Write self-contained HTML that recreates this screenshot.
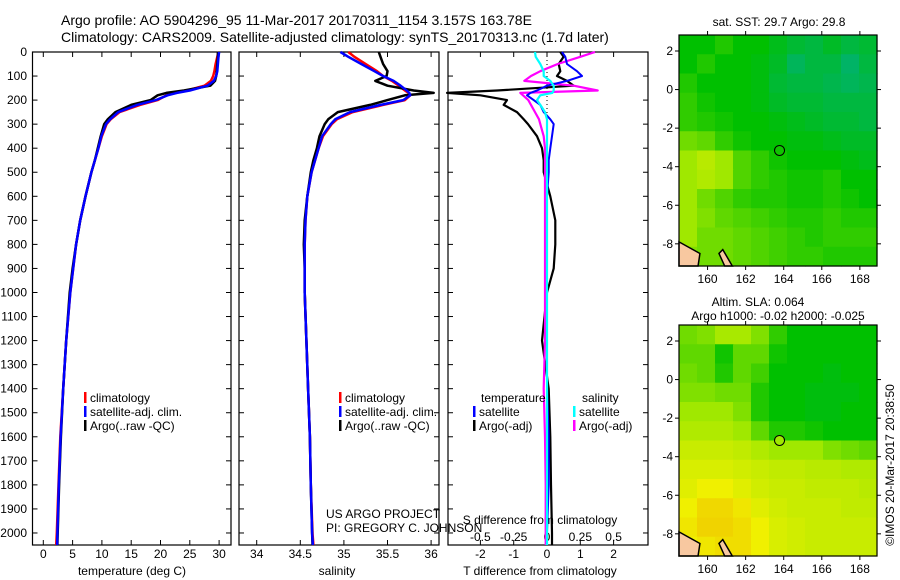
<!DOCTYPE html>
<html><head><meta charset="utf-8"><style>
body{margin:0;background:#fff;}
svg{display:block;font-family:"Liberation Sans",sans-serif;}
</style></head><body>
<svg id="fig" width="900" height="580" viewBox="0 0 900 580">
<text x="61" y="25" font-size="14">Argo profile: AO 5904296_95 11-Mar-2017 20170311_1154 3.157S 163.78E</text>
<text x="61" y="42" font-size="14">Climatology: CARS2009. Satellite-adjusted climatology: synTS_20170313.nc (1.7d later)</text>
<g id="g1"></g>
<g id="g2"></g>
<g id="g3"></g>
<g id="m1"></g>
<g id="m2"></g>
<text x="326" y="518" font-size="12">US ARGO PROJECT</text>
<text x="326" y="532" font-size="12">PI: GREGORY C. JOHNSON</text>
<text x="779" y="26" font-size="12" text-anchor="middle">sat. SST: 29.7 Argo: 29.8</text>
<text x="758" y="306" font-size="12" text-anchor="middle">Altim. SLA: 0.064</text>
<text x="778" y="320" font-size="12" text-anchor="middle">Argo h1000: -0.02 h2000: -0.025</text>
<text transform="translate(894,465) rotate(-90)" font-size="12" text-anchor="middle">©IMOS 20-Mar-2017 20:38:50</text>
</svg>
<script>
const depths=[0,20,50,80,100,120,140,160,170,180,200,220,250,280,300,350,400,450,500,600,700,800,900,1000,1200,1400,1600,1800,2000,2050];
const tempArgo=[29.8,29.8,29.7,29.6,29.5,29.3,28.5,24,21,19.5,18.3,15,12.3,11,10.4,9.8,9.3,8.8,8.2,7.2,6.3,5.6,5.0,4.5,3.9,3.4,3.0,2.7,2.45,2.4];
const tempClim=[29.9,29.7,29.4,29.2,29.0,28.6,27.5,24.5,22.5,21,19.5,16.5,13,11.5,10.8,10,9.4,8.8,8.2,7.2,6.3,5.6,5.1,4.6,3.9,3.4,2.9,2.6,2.3,2.2];
const tempSat=[30.0,29.9,29.8,29.7,29.5,29.1,28.0,25,22.8,21.2,19.2,16,12.8,11.4,10.7,9.9,9.4,8.8,8.2,7.2,6.3,5.6,5.1,4.6,3.9,3.4,2.95,2.65,2.4,2.35];
const salArgo=[35.40,35.42,35.45,35.50,35.49,35.36,35.5,35.8,36.03,35.7,35.5,35.3,34.93,34.82,34.78,34.72,34.69,34.65,34.62,34.58,34.55,34.54,34.55,34.55,34.57,34.59,34.61,34.62,34.635,34.64];
const salClim=[35.05,35.12,35.25,35.38,35.45,35.55,35.63,35.7,35.74,35.76,35.7,35.45,35.1,34.92,34.86,34.76,34.71,34.67,34.63,34.58,34.56,34.55,34.55,34.55,34.57,34.59,34.61,34.62,34.64,34.65];
const salSat=[34.96,35.05,35.2,35.35,35.45,35.57,35.65,35.72,35.75,35.76,35.68,35.42,35.07,34.9,34.85,34.75,34.71,34.67,34.63,34.58,34.56,34.55,34.55,34.55,34.57,34.59,34.61,34.62,34.635,34.645];
const tdiffArgo=[0.4,0.5,0.35,0.4,0.3,0.6,0.8,-1.5,-3.0,-2.0,-1.2,-1.3,-0.9,-0.7,-0.57,-0.3,-0.15,-0.1,-0.1,0.1,0.25,0.25,0.2,0.0,-0.15,0.05,0.1,0.12,0.15,0.15];
const tdiffSat=[0.45,0.55,0.6,0.9,1.05,0.6,0.0,-0.3,-0.5,-0.6,-0.4,-0.2,-0.1,0.1,0.2,0.15,0.1,0.05,0.05,0.0,0.0,0.0,0.0,0.0,0.0,0.0,0.05,0.05,0.0,0.0];
const sdiffArgo=[0.36,0.25,0.08,-0.05,-0.12,-0.17,0.2,0.38,-0.2,-0.18,-0.14,-0.12,-0.09,-0.06,-0.05,-0.025,-0.015,-0.015,-0.015,-0.015,-0.015,-0.015,-0.015,-0.015,-0.015,-0.025,-0.015,-0.01,-0.01,-0.01];
const sdiffSat=[-0.09,-0.085,-0.05,-0.025,-0.025,0.025,0.05,0.05,0.04,-0.05,-0.075,-0.05,-0.015,0.0,0.0,0.0,0.0,0.0,0.0,0.0,0.0,0.0,0.0,0.0,0.0,0.0,0.0,0.0,0.0,0.0];
const depthTicks=[0,100,200,300,400,500,600,700,800,900,1000,1100,1200,1300,1400,1500,1600,1700,1800,1900,2000];
const tempTicks=[0,5,10,15,20,25,30];
const salTicks=[34,34.5,35,35.5,36];
const tdTicks=[-2,-1,0,1,2];
const sdTicks=[-0.5,-0.25,0,0.25,0.5];
const lonTicks=[160,162,164,166,168];
const latTicks=[2,0,-2,-4,-6,-8];
const sstGrid=[
[.5,.5,.52,.5,.5,.48,.46,.45,.47,.45,.46],
[.5,.52,.5,.5,.49,.47,.43,.45,.45,.42,.45],
[.52,.5,.5,.5,.49,.46,.45,.45,.44,.43,.44],
[.53,.51,.5,.5,.49,.47,.46,.46,.45,.45,.45],
[.53,.52,.51,.5,.5,.49,.48,.47,.46,.46,.45],
[.57,.56,.53,.51,.5,.5,.49,.49,.48,.47,.47],
[.6,.63,.6,.55,.53,.51,.5,.5,.5,.49,.48],
[.6,.62,.6,.55,.53,.52,.51,.51,.52,.5,.5],
[.6,.57,.55,.53,.52,.52,.51,.51,.52,.51,.5],
[.6,.58,.56,.55,.54,.53,.52,.52,.53,.52,.52],
[.6,.57,.57,.56,.55,.54,.53,.52,.53,.53,.53],
[.58,.57,.57,.56,.55,.54,.53,.53,.52,.52,.52]];
const slaGrid=[
[.57,.58,.61,.61,.58,.53,.5,.5,.5,.5,.5],
[.56,.56,.51,.56,.56,.51,.5,.5,.5,.5,.5],
[.57,.56,.52,.56,.54,.5,.5,.5,.49,.5,.5],
[.58,.58,.57,.57,.52,.5,.5,.49,.49,.49,.5],
[.6,.6,.6,.58,.52,.5,.5,.49,.49,.5,.5],
[.62,.62,.62,.6,.56,.52,.52,.51,.5,.5,.5],
[.65,.65,.65,.64,.62,.6,.6,.6,.58,.57,.56],
[.67,.67,.67,.66,.65,.64,.64,.63,.63,.62,.62],
[.68,.7,.7,.68,.66,.65,.65,.64,.64,.64,.63],
[.7,.75,.75,.72,.68,.66,.65,.65,.65,.64,.64],
[.72,.76,.76,.74,.7,.67,.66,.65,.65,.65,.65],
[.7,.72,.74,.74,.7,.67,.66,.65,.65,.65,.65]];
const argoLon=163.78, argoLat=-3.157;

const NS='http://www.w3.org/2000/svg';
function mk(tag,parent,attrs){const e=document.createElementNS(NS,tag);for(const k in attrs)e.setAttribute(k,attrs[k]);parent.appendChild(e);return e;}
const Y0=52,Y1=545;
const yD=d=>Y0+d*(Y1-Y0)/2050;
function frame(g,x0,x1,name){
  const r=mk('rect',g,{x:x0,y:Y0,width:x1-x0,height:Y1-Y0,fill:'none',stroke:'#000','stroke-width':1.2});
  
  depthTicks.forEach(d=>{mk('line',g,{x1:x0,x2:x0+5,y1:yD(d),y2:yD(d),stroke:'#000'});mk('line',g,{x1:x1,x2:x1-5,y1:yD(d),y2:yD(d),stroke:'#000'});});
}
function xticks(g,ticks,fx,y,name,top){
  ticks.forEach(v=>{const x=fx(v);
    if(top){mk('line',g,{x1:x,x2:x,y1:Y0,y2:Y0+5,stroke:'#000'});mk('line',g,{x1:x,x2:x,y1:Y1,y2:Y1-5,stroke:'#000'});}
    const t=mk('text',g,{x:x,y:y,'font-size':12,'text-anchor':'middle'});t.textContent=String(v);
    });
}
function line(g,xs,fx,col,w,name){
  const p=depths.map((d,i)=>fx(xs[i]).toFixed(1)+','+yD(d).toFixed(1)).join(' ');
  const l=mk('polyline',g,{points:p,fill:'none',stroke:col,'stroke-width':w,'stroke-linejoin':'round'});
  
}
function legend(g,x,y,col,label,name){
  mk('rect',g,{x:x,y:y-10,width:2.5,height:11,fill:col});
  const t=mk('text',g,{x:x+6,y:y,'font-size':12});t.textContent=label;
  
}
function lbl(g,x,y,txt,name,anchor){const t=mk('text',g,{x:x,y:y,'font-size':12,'text-anchor':anchor||'middle'});t.textContent=txt;}

// Panel 1 temperature
const g1=document.getElementById('g1');
const xT=t=>43.3+t*5.86;
frame(g1,32.5,231,'temperature');
depthTicks.forEach(d=>lbl(g1,27,yD(d)+4,String(d),'depth-tick-label','end'));
xticks(g1,tempTicks,xT,558,'temperature-tick-label',true);
lbl(g1,132,575,'temperature (deg C)','temperature-axis-title');
line(g1,tempClim,xT,'#ff0000',2.5,'temperature-climatology-line');
line(g1,tempArgo,xT,'#000000',2.5,'temperature-argo-line');
line(g1,tempSat,xT,'#0000ff',2.5,'temperature-satellite-line');
legend(g1,84,402,'#ff0000','climatology','legend-climatology');
legend(g1,84,416,'#0000ff','satellite-adj. clim.','legend-satellite');
legend(g1,84,430,'#000000','Argo(..raw -QC)','legend-argo');

// Panel 2 salinity
const g2=document.getElementById('g2');
const xS=s=>256.7+(s-34)*87.2;
frame(g2,239,439,'salinity');
xticks(g2,salTicks,xS,558,'salinity-tick-label',true);
lbl(g2,337,575,'salinity','salinity-axis-title');
line(g2,salClim,xS,'#ff0000',2.5,'salinity-climatology-line');
line(g2,salArgo,xS,'#000000',2.5,'salinity-argo-line');
line(g2,salSat,xS,'#0000ff',2.5,'salinity-satellite-line');
legend(g2,339,402,'#ff0000','climatology','legend-climatology');
legend(g2,339,416,'#0000ff','satellite-adj. clim.','legend-satellite');
legend(g2,339,430,'#000000','Argo(..raw -QC)','legend-argo');

// Panel 3 differences
const g3=document.getElementById('g3');
const xTd=v=>547+v*33.3;
const xSd=v=>547+v*133.3;
frame(g3,448,648,'difference');
mk('line',g3,{x1:547,x2:547,y1:Y0,y2:Y1,stroke:'#000','stroke-dasharray':'1,3'});
xticks(g3,tdTicks,xTd,558,'t-difference-tick-label',true);
xticks(g3,sdTicks,xSd,541,'s-difference-tick-label',false);
lbl(g3,540,524,'S difference from climatology','s-difference-axis-title');
lbl(g3,540,575,'T difference from climatology','t-difference-axis-title');
line(g3,tdiffArgo,xTd,'#000000',2.2,'t-difference-argo-line');
line(g3,sdiffArgo,xSd,'#ff00ff',2.2,'s-difference-argo-line');
line(g3,tdiffSat,xTd,'#0000ff',2,'t-difference-satellite-line');
line(g3,sdiffSat,xSd,'#00ffff',2.2,'s-difference-satellite-line');
lbl(g3,481,402,'temperature','legend-temperature-header','start');
lbl(g3,582,402,'salinity','legend-salinity-header','start');
legend(g3,473,416,'#0000ff','satellite','legend-t-satellite');
legend(g3,473,430,'#000000','Argo(-adj)','legend-t-argo');
legend(g3,573,416,'#00ffff','satellite','legend-s-satellite');
legend(g3,573,430,'#ff00ff','Argo(-adj)','legend-s-argo');

// Maps
const stops=[[0,[0,64,255]],[.3,[0,192,224]],[.4,[0,176,128]],[.5,[0,192,0]],[.6,[160,232,0]],[.7,[240,240,0]],[.8,[240,192,0]],[.9,[240,128,0]],[1,[224,32,0]]];
function cmap(v){for(let i=1;i<stops.length;i++){if(v<=stops[i][0]){const a=stops[i-1],b=stops[i],f=(v-a[0])/(b[0]-a[0]);return 'rgb('+a[1].map((c,k)=>Math.round(c+(b[1][k]-c)*f)).join(',')+')';}}return 'rgb(224,32,0)';}
function map(id,grid,oy,name){
  const g=document.getElementById(id);
  const x0=679,x1=877,y0=35+oy,y1=266+oy;
  const lonMin=158.5,lonMax=168.9,latMax=2.83,latMin=-9.15;
  const fx=lo=>x0+(lo-lonMin)*(x1-x0)/(lonMax-lonMin);
  const fy=la=>y0+(latMax-la)*(y1-y0)/(latMax-latMin);
  const rows=grid.length,cols=grid[0].length;
  const cw=(x1-x0)/cols,ch=(y1-y0)/rows;
  grid.forEach((row,r)=>row.forEach((v,c)=>{
    const cell=mk('rect',g,{x:(x0+c*cw).toFixed(2),y:(y0+r*ch).toFixed(2),width:(cw+0.6).toFixed(2),height:(ch+0.6).toFixed(2),fill:cmap(v)});
    
  }));
  const land=mk('path',g,{d:`M${x0} ${fy(-7.9)} L${fx(159.6)} ${fy(-8.5)} L${fx(159.5)} ${fy(-9.15)} L${x0} ${fy(-9.15)} Z M${fx(160.8)} ${fy(-8.3)} L${fx(161.3)} ${fy(-9.15)} L${fx(160.9)} ${fy(-9.15)} L${fx(160.6)} ${fy(-8.5)} Z`,fill:'#f8c8a0',stroke:'#000','stroke-width':1.5});
  
  const fr=mk('rect',g,{x:x0,y:y0,width:x1-x0,height:y1-y0,fill:'none',stroke:'#000','stroke-width':1.2});
  
  lonTicks.forEach(lo=>{const x=fx(lo);mk('line',g,{x1:x,x2:x,y1:y0,y2:y0-4,stroke:'#000'});mk('line',g,{x1:x,x2:x,y1:y1,y2:y1+4,stroke:'#000'});
    const t=mk('text',g,{x:x,y:y1+17,'font-size':12,'text-anchor':'middle'});t.textContent=String(lo);});
  latTicks.forEach(la=>{const y=fy(la);mk('line',g,{x1:x0,x2:x0-4,y1:y,y2:y,stroke:'#000'});mk('line',g,{x1:x1,x2:x1+4,y1:y,y2:y,stroke:'#000'});
    const t=mk('text',g,{x:x0-6,y:y+4,'font-size':12,'text-anchor':'end'});t.textContent=String(la);});
  const c=mk('circle',g,{cx:fx(argoLon),cy:fy(argoLat),r:5,fill:cmap(grid[6][5]),stroke:'#000','stroke-width':1});
  
}
map('m1',sstGrid,0,'sst-map');
map('m2',slaGrid,290,'sla-map');
</script>
</body></html>
